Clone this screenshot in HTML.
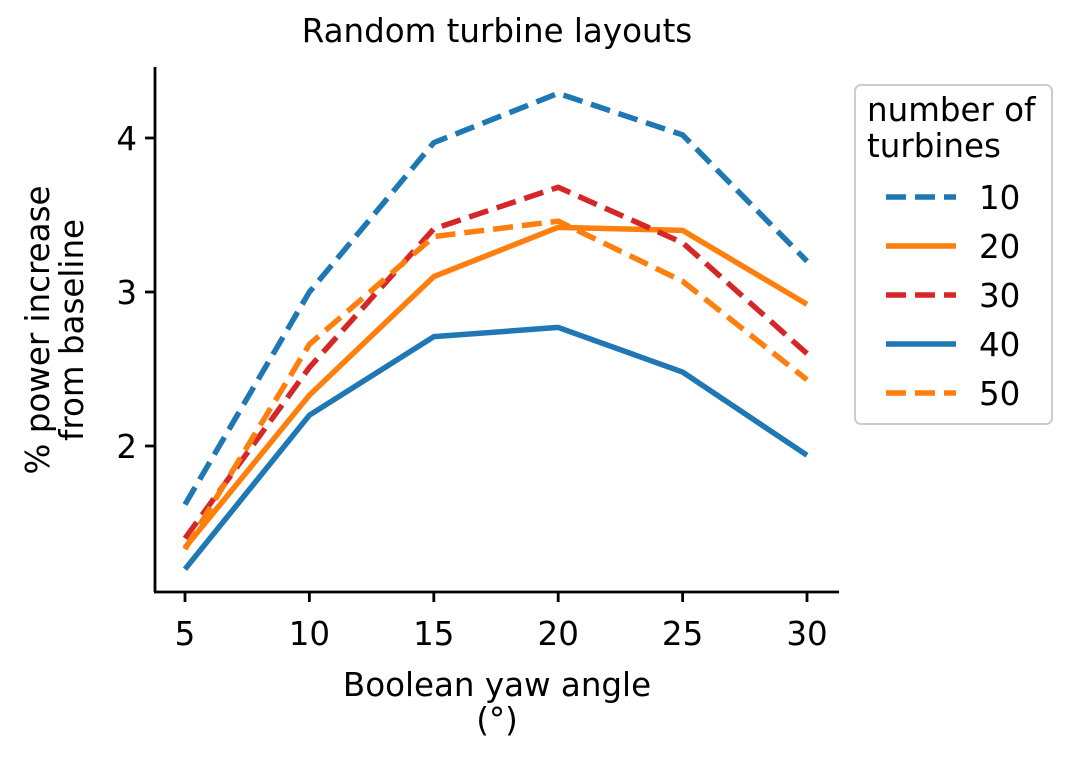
<!DOCTYPE html>
<html><head><meta charset="utf-8"><style>
body{margin:0;background:#fff;}
svg text{font-family:"DejaVu Sans","Liberation Sans",sans-serif;fill:#000;}
</style></head><body>
<svg id="chart" width="1075" height="755" viewBox="0 0 1075 755">
<text x="497" y="42" font-size="32.5" text-anchor="middle">Random turbine layouts</text>
<g id="axes"></g>
<g id="series"></g>
<text x="497" y="696" font-size="32.5" text-anchor="middle">Boolean yaw angle</text>
<text x="497" y="731" font-size="32.5" text-anchor="middle">(°)</text>
<text transform="translate(49,330) rotate(-90)" font-size="32.5" text-anchor="middle">% power increase</text>
<text transform="translate(83,330) rotate(-90)" font-size="32.5" text-anchor="middle">from baseline</text>
<g>
<rect x="855" y="85" width="197" height="339" rx="6" fill="#fff" stroke="#ccc" stroke-width="2"/>
<text x="867" y="121" font-size="32.5">number of</text>
<text x="867" y="157" font-size="32.5">turbines</text>
<g id="legend-entries"></g>
</g>
</svg>
<script>
const xCats=[5,10,15,20,25,30];
const seriesNames=["10","20","30","40","50"];
const s10=[1.62,3.0,3.97,4.29,4.02,3.20];
const s20=[1.34,2.33,3.10,3.42,3.40,2.92];
const s30=[1.40,2.51,3.41,3.68,3.32,2.60];
const s40=[1.20,2.20,2.71,2.77,2.48,1.94];
const s50=[1.33,2.66,3.36,3.46,3.07,2.43];
const yTicks=[2,3,4];
const colors=["#1f77b4","#ff7f0e","#d62728","#1f77b4","#ff7f0e"];
const dashed=[true,false,true,false,true];
const allSeries=[s10,s20,s30,s40,s50];
const NS="http://www.w3.org/2000/svg";
const xs=v=>185+(v-5)*(807-185)/25;
const ys=v=>446-(v-2)*154;
function mk(t,a,p){const e=document.createElementNS(NS,t);for(const k in a)e.setAttribute(k,a[k]);p.appendChild(e);return e;}
const ax=document.getElementById('axes');
let l=mk('line',{x1:155,y1:67,x2:155,y2:592,stroke:'#000','stroke-width':2.8},ax);


l=mk('line',{x1:154,y1:592,x2:839,y2:592,stroke:'#000','stroke-width':2.8},ax);


xCats.forEach(v=>{
 const t=mk('line',{x1:xs(v),y1:592,x2:xs(v),y2:602,stroke:'#000','stroke-width':2.8},ax);
 
 
 const tx=mk('text',{x:xs(v),y:645,'font-size':32.5,'text-anchor':'middle'},ax);tx.textContent=v;
 
 
});
yTicks.forEach(v=>{
 const t=mk('line',{x1:145,y1:ys(v),x2:155,y2:ys(v),stroke:'#000','stroke-width':2.8},ax);
 
 
 const tx=mk('text',{x:137,y:ys(v)+12,'font-size':32.5,'text-anchor':'end'},ax);tx.textContent=v;
 
 
});
const sg=document.getElementById('series');
allSeries.forEach((s,i)=>{
 const pts=s.map((v,j)=>xs(xCats[j])+','+ys(v)).join(' ');
 const a={points:pts,fill:'none',stroke:colors[i],'stroke-width':5.5,'stroke-linejoin':'round'};
 if(dashed[i])a['stroke-dasharray']='20,9';
 const p=mk('polyline',a,sg);
 
 
});
const lg=document.getElementById('legend-entries');
seriesNames.forEach((n,i)=>{
 const y=197+i*49;
 const a={x1:886,y1:y,x2:956,y2:y,stroke:colors[i],'stroke-width':5.5};
 if(dashed[i])a['stroke-dasharray']='20,9';
 const ln=mk('line',a,lg);
 
 
 const tx=mk('text',{x:979,y:y+12,'font-size':32.5},lg);tx.textContent=n;
 
 
});
</script>
</body></html>
